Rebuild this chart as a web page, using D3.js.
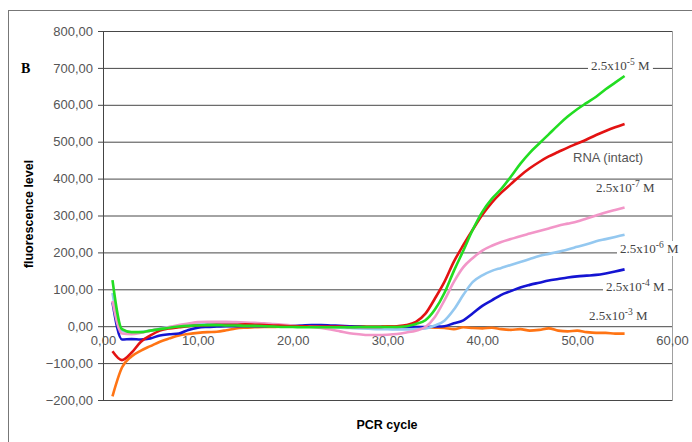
<!DOCTYPE html>
<html>
<head>
<meta charset="utf-8">
<script src="https://cdn.jsdelivr.net/npm/d3@7"></script>
<style>
  body { margin: 0; background: #fff; }
  svg text { font-family: "Liberation Sans", Arial, sans-serif; }
</style>
</head>
<body>
<svg id="chart" width="692" height="442"></svg>
<script>
// PCR cycles 1..55
var cycles = d3.range(1, 56);
var yTicks = [-200, -100, 0, 100, 200, 300, 400, 500, 600, 700, 800];
var xTicks = [0, 10, 20, 30, 40, 50, 60];

var green = [125, -8, -16, -16, -12, -8, -4, -1, 1, 2, 3, 3, 2, 2, 1, 1, 0, -1, -2, -2,
  -3, -3, -3, -3, -3, -3, -2, -2, -2, -2, -2, 0, 6, 16, 45, 90, 150, 205, 262, 310,
  345, 372, 405, 440, 470, 495, 520, 545, 568, 588, 605, 622, 642, 660, 678];
var red = [-68, -92, -72, -42, -25, -12, -6, -3, 0, 2, 3, 4, 4, 4, 5, 4, 3, 2, 1, 0,
  0, -1, -1, -1, -1, -2, -2, -2, -2, -1, 0, 3, 12, 34, 75, 120, 175, 220, 262, 302,
  335, 362, 385, 408, 428, 445, 460, 472, 484, 495, 506, 518, 529, 539, 548];
var pink = [68, -20, -22, -18, -12, -8, -2, 3, 7, 11, 12, 12, 12, 11, 10, 9, 8, 6, 4, 2,
  0, -2, -5, -9, -14, -19, -22, -24, -24, -23, -21, -17, -12, -2, 25, 70, 120, 160, 185, 205,
  218, 228, 236, 244, 251, 258, 265, 272, 278, 284, 292, 300, 308, 315, 322];
var lightblue = [90, -12, -18, -16, -12, -6, -2, 1, 4, 6, 6, 6, 5, 5, 4, 3, 3, 2, 1, 0,
  -1, -1, -2, -3, -4, -5, -6, -7, -8, -8, -9, -9, -8, -6, 2, 15, 45, 85, 120, 138,
  150, 158, 166, 174, 182, 190, 196, 202, 208, 215, 222, 230, 236, 242, 248];
var blue = [65, -36, -35, -36, -33, -25, -22, -20, -10, -4, -2, -1, 0, 0, 0, 0, 0, 1, 1, 1,
  2, 3, 3, 2, 1, 0, -1, -2, -2, -3, -3, -3, -2, -2, -1, 0, 8, 16, 35, 55,
  70, 85, 95, 105, 112, 118, 124, 128, 132, 135, 137, 139, 143, 148, 154];
var orange = [-190, -112, -82, -66, -54, -42, -33, -25, -21, -18, -16, -15, -11, -6, -4, -3, -2, -2, -1, -1,
  0, 0, 0, 0, 0, 0, 0, -1, -1, 0, -1, -1, -2, -3, -4, -5, -8, -3, -5, -6,
  -4, -8, -10, -8, -12, -10, -6, -12, -14, -12, -16, -18, -18, -20, -20];

var series = [
  {name: "2.5x10-3 M", values: orange, color: "#ff7414"},
  {name: "2.5x10-4 M", values: blue, color: "#1414d2"},
  {name: "2.5x10-6 M", values: lightblue, color: "#94c8f0"},
  {name: "2.5x10-7 M", values: pink, color: "#f296c8"},
  {name: "RNA (intact)", values: red, color: "#e31212"},
  {name: "2.5x10-5 M", values: green, color: "#22dd22"}
];

// define svg parameters
var svg = d3.select("#chart"),
    margin = {top: 31, right: 20, bottom: 42, left: 103},
    width = 672 - margin.left,
    height = 400 - margin.top;

// outer frame
svg.append("rect")
  .attr("x", 8.5).attr("y", 10.5)
  .attr("width", 720).attr("height", 460)
  .attr("fill", "none").attr("stroke", "#777").attr("stroke-width", 1);

var x = d3.scaleLinear().domain([0, 60]).range([0, width]),
    y = d3.scaleLinear().domain([-200, 800]).range([height, 0]);

var g = svg.append("g")
  .attr("transform", "translate(" + margin.left + "," + margin.top + ")");

// plot area border
g.append("rect")
  .attr("x", 0.5).attr("y", 0.5)
  .attr("width", width).attr("height", height)
  .attr("fill", "none").attr("stroke", "#a0a0a0");

// gridlines + y axis
var yAxis = g.append("g")
  .call(d3.axisLeft(y).tickValues(yTicks)
    .tickFormat(function(d) { return d3.format(".2f")(d).replace(".", ","); })
    .tickSizeInner(-width).tickSizeOuter(0).tickPadding(10));
yAxis.select(".domain").attr("stroke", "#444");
yAxis.selectAll(".tick line").attr("stroke", "#484848").attr("x1", -5);
yAxis.selectAll(".tick text").attr("fill", "#555").style("font-size", "13px");

// x axis labels sit under the zero line
var xAxis = g.append("g")
  .attr("transform", "translate(0," + y(0) + ")")
  .call(d3.axisBottom(x).tickValues(xTicks)
    .tickFormat(function(d) { return d3.format(".2f")(d).replace(".", ","); })
    .tickSize(0).tickPadding(10));
xAxis.select(".domain").remove();
xAxis.selectAll(".tick text").attr("fill", "#555").style("font-size", "13px");

// curves
var line = d3.line()
  .x(function(d, i) { return x(cycles[i]); })
  .y(function(d) { return y(d); })
  .curve(d3.curveMonotoneX);

g.selectAll(".curve")
  .data(series)
  .enter().append("path")
  .attr("class", "curve")
  .attr("d", function(d) { return line(d.values); })
  .attr("fill", "none")
  .attr("stroke", function(d) { return d.color; })
  .attr("stroke-width", 2.6)
  .attr("stroke-linejoin", "round");

// curve labels (serif, with superscript exponent)
var labels = [
  {base: "2.5x10", exp: "-5", unit: " M", x: 591, y: 70},
  {base: "2.5x10", exp: "-7", unit: " M", x: 596, y: 192},
  {base: "2.5x10", exp: "-6", unit: " M", x: 620, y: 253},
  {base: "2.5x10", exp: "-4", unit: " M", x: 606, y: 291},
  {base: "2.5x10", exp: "-3", unit: " M", x: 589, y: 320}
];

labels.forEach(function(l) {
  var t = svg.append("text")
    .attr("x", l.x).attr("y", l.y)
    .style("font-family", "'Liberation Serif', 'Times New Roman', serif")
    .style("font-size", "13px")
    .attr("fill", "#444");
  t.append("tspan").text(l.base);
  t.append("tspan").attr("dy", -5).style("font-size", "9.5px").text(l.exp);
  t.append("tspan").attr("dy", 5).text(l.unit);
  var bb = t.node().getBBox();
  svg.insert("rect", function() { return t.node(); })
    .attr("x", bb.x - 3).attr("y", bb.y + 1)
    .attr("width", bb.width + 6).attr("height", bb.height - 1)
    .attr("fill", "#fff");
});

svg.append("text")
  .attr("x", 573).attr("y", 162)
  .attr("fill", "#555")
  .style("font-size", "13px")
  .text("RNA (intact)");

// panel letter
svg.append("text")
  .attr("x", 21).attr("y", 73)
  .style("font-family", "'Liberation Serif', 'Times New Roman', serif")
  .style("font-weight", "bold").style("font-size", "14px")
  .text("B");

// axis titles
svg.append("text")
  .attr("transform", "translate(33,214) rotate(-90)")
  .attr("text-anchor", "middle")
  .style("font-weight", "bold").style("font-size", "12.5px")
  .text("fluorescence level");

svg.append("text")
  .attr("x", 387).attr("y", 429)
  .attr("text-anchor", "middle")
  .style("font-weight", "bold").style("font-size", "12.5px")
  .text("PCR cycle");
</script>
</body>
</html>
